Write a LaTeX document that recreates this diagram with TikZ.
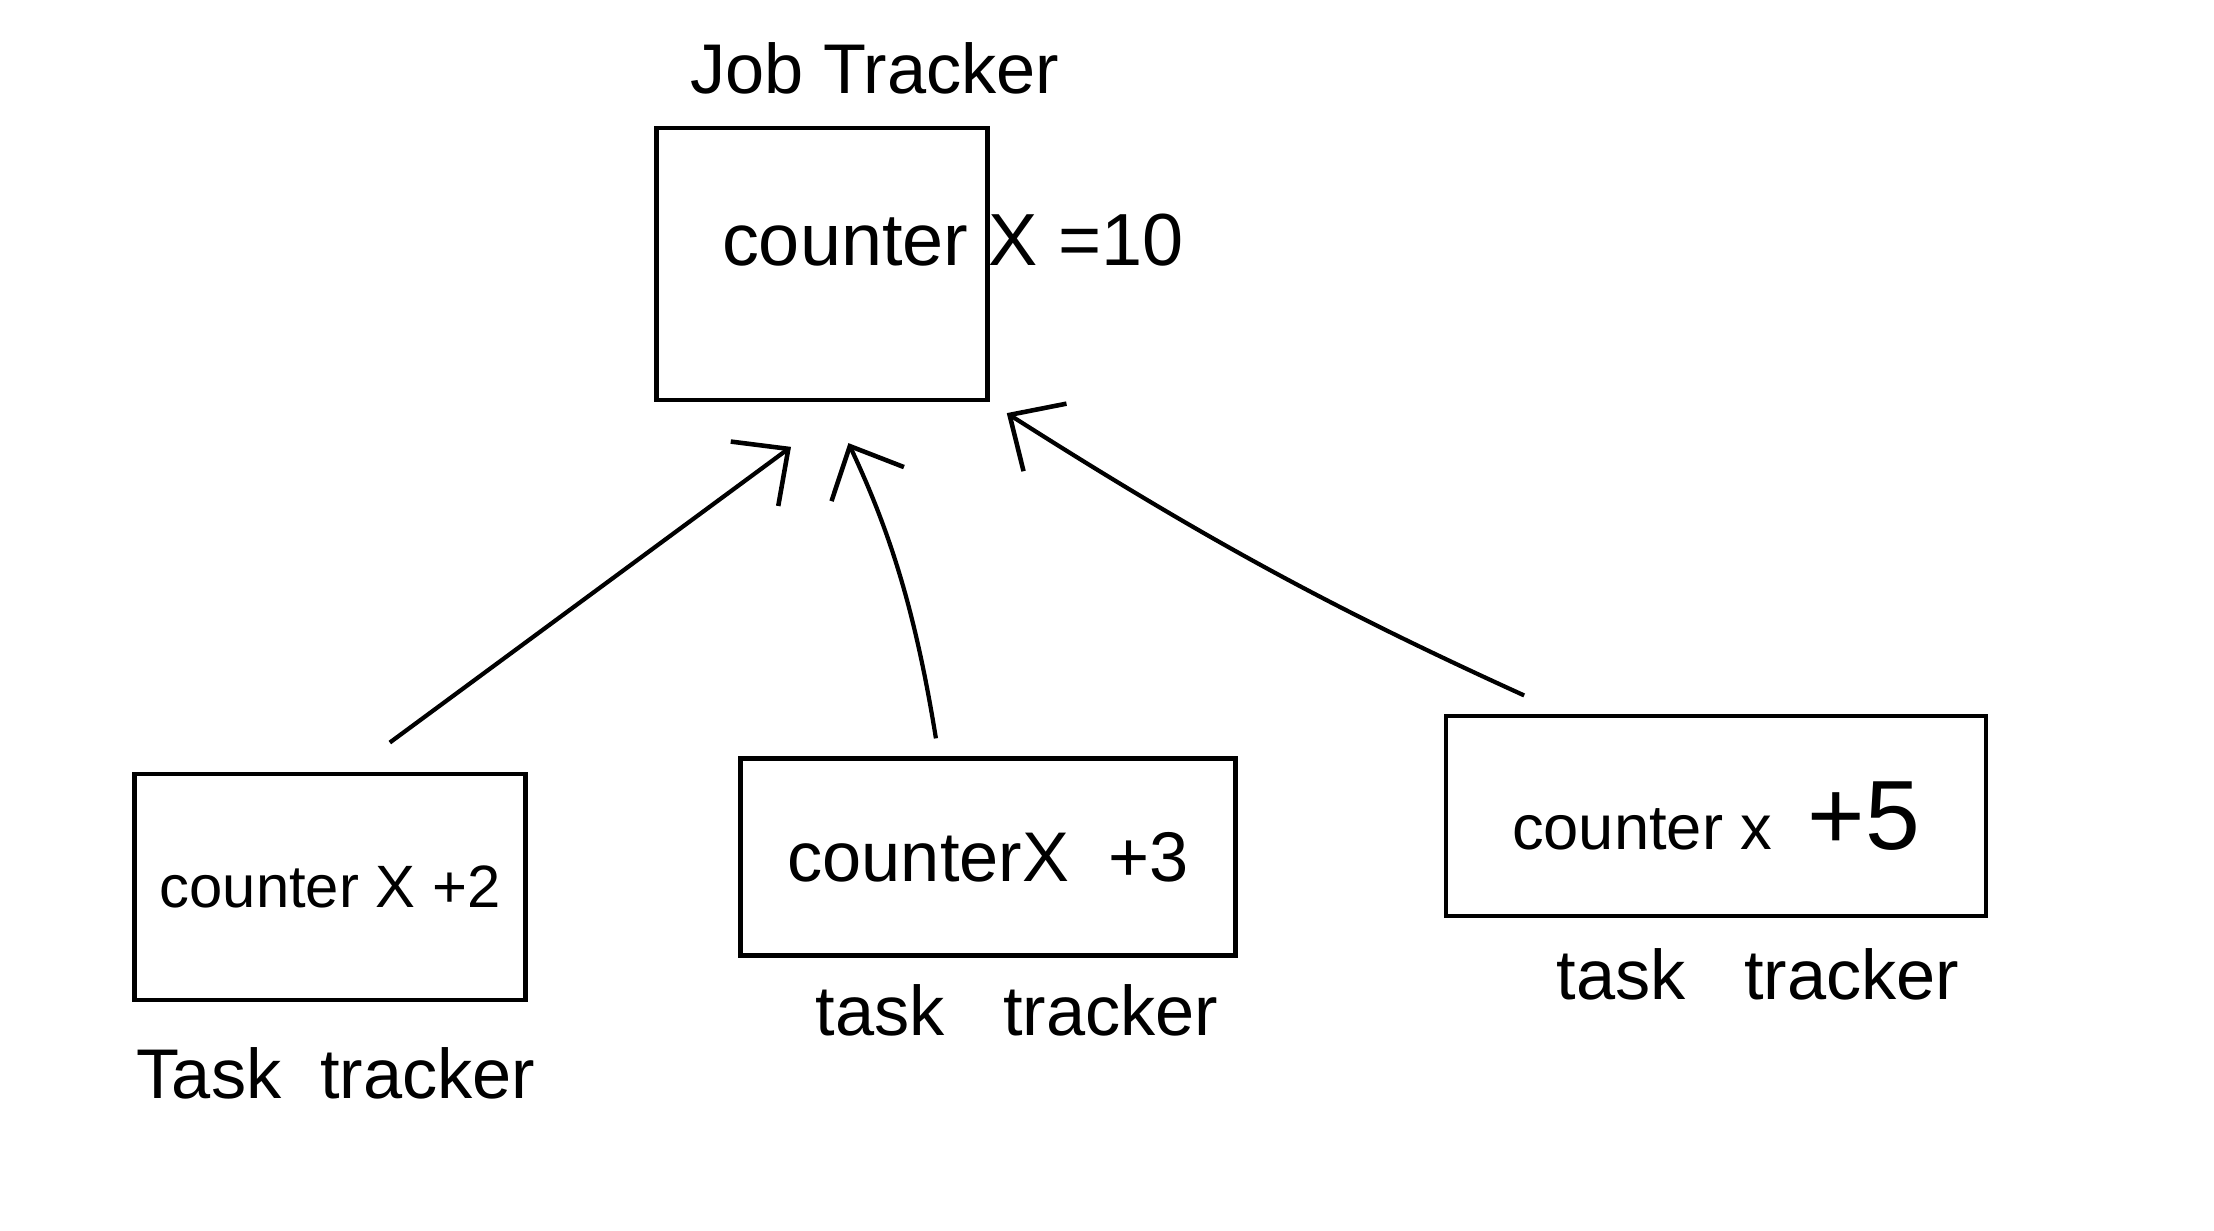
\documentclass[tikz,border=0pt]{standalone}
\usepackage{fontspec}
\setmainfont{Liberation Sans}
\usetikzlibrary{arrows.meta}
\begin{document}
\begin{tikzpicture}[x=0.01cm,y=-0.01cm,
  box/.style={draw, line width=1.3pt, inner sep=0pt, anchor=center, font=\fontsize{18}{22}\selectfont},
  txt/.style={inner sep=0pt, font=\fontsize{20}{24}\selectfont},
  conn/.style={-{Straight Barb[length=0.42cm,width=0.8cm,line width=1.3pt]}, line width=1.2pt}]
\useasboundingbox (0,0) rectangle (2214,1231);
\fill[white] (0,0) rectangle (2214,1231);

% Job tracker
\node[txt] (jobtitle) at (875,68) {Job Tracker};
\node[box, minimum width=3.31cm, minimum height=2.72cm] (job) at (822,264) {};
\node[txt, font=\fontsize{21}{25}\selectfont] (jobtext) at (953,240) {counter X =10};

% Task trackers
\node[box, minimum width=3.91cm, minimum height=2.26cm, font=\fontsize{17}{20}\selectfont] (t1) at (330,887) {counter X +2};
\node[box, minimum width=4.95cm, minimum height=1.97cm, font=\fontsize{20}{24}\selectfont] (t2) at (988,857) {counterX \ +3};
\node[box, minimum width=5.40cm, minimum height=2.00cm] (t3) at (1716,816) {counter x \ {\fontsize{28}{32}\selectfont +5}};

\node[txt] (l1) at (336,1073) {Task \ tracker};
\node[txt] (l2) at (1017,1010) {task \ \ tracker};
\node[txt] (l3) at (1758,974) {task \ \ tracker};

% Connectors
\draw[conn, shorten <=0.49cm, shorten >=0.75cm] (t1.80.5) -- (job.-78);
\draw[conn, shorten <=0.18cm, shorten >=0.45cm] (t2.116.8) to[bend right=8] (job.-87);
\draw[conn, shorten <=0.44cm, shorten >=0.2cm] (t3.146) to[bend left=4] (job.south east);
\end{tikzpicture}
\end{document}
